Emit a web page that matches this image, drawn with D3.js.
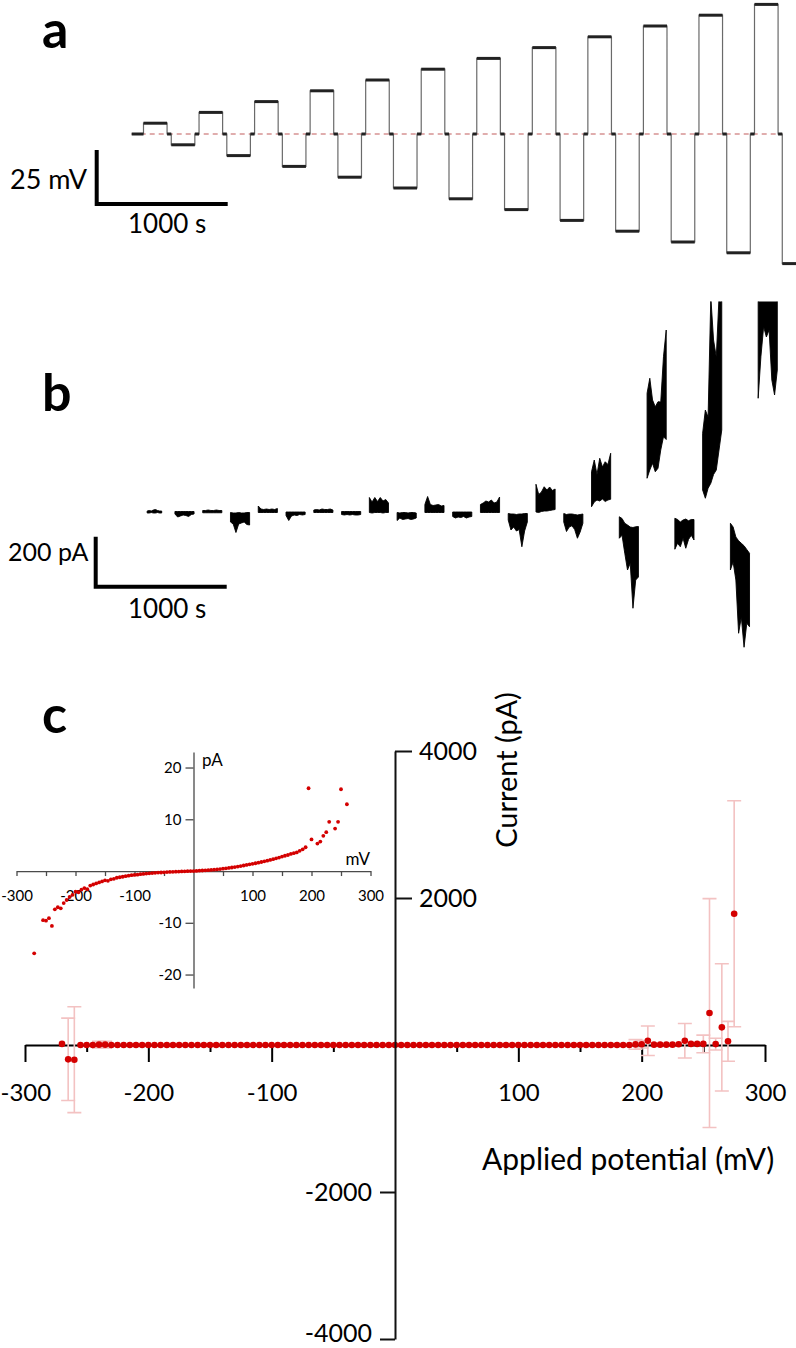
<!DOCTYPE html>
<html>
<head>
<meta charset="utf-8">
<script src="https://cdnjs.cloudflare.com/ajax/libs/d3/7.8.5/d3.min.js"></script>
<style>
  body { margin: 0; background: #fff; }
  text { font-family: Lato, 'Noto Sans', sans-serif; fill: #000; }
</style>
</head>
<body>
<div id="chart"></div>
<script>
// ---- panel a: voltage protocol ----
var stepMV = [5, -5, 10, -10, 15, -15, 20, -20, 25, -25, 30, -30,
              35, -35, 40, -40, 45, -45, 50, -50, 55, -55, 60, -60];
var pulseStart = [90, 302, 514, 726, 938, 1150, 1362, 1574, 1786, 1998, 2210, 2422,
                  2634, 2846, 3058, 3270, 3482, 3694, 3906, 4118, 4330, 4542, 4754, 4966];
var pulseDur = 180;

// ---- panel b: current recording envelopes (pA), 8 samples per pulse ----
var recStart = [118, 330, 542, 754, 966, 1178, 1390, 1602, 1814, 2026, 2238, 2450,
                2662, 2874, 3086, 3298, 3510, 3722, 3934, 4146, 4358, 4570, 4782];
var recEnd = [229, 476, 688, 900, 1112, 1324, 1536, 1748, 1960, 2172, 2384, 2596,
              2808, 3020, 3232, 3444, 3656, 3868, 4080, 4292, 4504, 4716, 4928];
var segHi = [
  [4, 6, 4, 8, 10, 6, 4, 4],
  [2, 2, 2, 2, 2, 2, 2, 2],
  [6, 6, 8, 6, 6, 8, 6, 6],
  [-2, -4, -4, -2, -4, -4, -2, -2],
  [24, 12, 10, 12, 10, 12, 10, 14],
  [0, 0, 0, 0, 0, 0, 0, 0],
  [8, 10, 8, 12, 10, 10, 12, 8],
  [2, 2, 2, 2, 2, 2, 2, 2],
  [58, 40, 58, 42, 58, 44, 50, 36],
  [-2, -4, -2, -2, -4, -2, -2, -4],
  [30, 62, 30, 26, 28, 30, 24, 26],
  [0, 0, 0, 0, 0, 0, 0, 0],
  [30, 36, 44, 40, 48, 36, 40, 60],
  [-6, -8, -8, -10, -8, -8, -6, -6],
  [111, 70, 80, 101, 88, 100, 86, 92],
  [-6, -10, -8, -8, -10, -12, -10, -8],
  [161, 208, 150, 215, 180, 201, 190, 235],
  [-19, -26, -45, -52, -60, -62, -59, -58],
  [475, 535, 448, 421, 441, 440, 621, 728],
  [-25, -30, -40, -32, -28, -35, -30, -30],
  [315, 408, 380, 860, 688, 620, 860, 860],
  [-45, -60, -100, -115, -125, -135, -150, -165],
  [860, 860, 860, 860, 860, 860, 860, 860]
];
var segLo = [
  [-4, -4, -2, -4, -4, -2, -4, -4],
  [-8, -20, -16, -12, -14, -18, -10, -8],
  [-3, -3, -3, -3, -3, -3, -3, -3],
  [-40, -48, -82, -48, -44, -40, -50, -52],
  [-2, -2, -2, -2, -2, -2, -2, -2],
  [-14, -34, -16, -12, -14, -10, -12, -10],
  [-2, -2, -2, -2, -2, -2, -2, -2],
  [-10, -12, -10, -12, -10, -12, -12, -10],
  [-2, -4, -2, -2, -2, -4, -2, -2],
  [-34, -24, -30, -28, -26, -30, -28, -24],
  [-2, -2, -2, -2, -2, -2, -2, -2],
  [-18, -24, -20, -22, -18, -24, -20, -18],
  [-2, -2, -2, -2, -2, -2, -2, -2],
  [-32, -72, -60, -76, -70, -139, -76, -40],
  [0, -2, 2, 4, 4, 6, 8, 10],
  [-40, -78, -60, -55, -70, -105, -80, -45],
  [21, 40, 48, 44, 52, 42, 48, 51],
  [-105, -93, -165, -232, -205, -385, -272, -260],
  [135, 168, 195, 161, 175, 248, 301, 290],
  [-149, -125, -139, -105, -145, -110, -93, -112],
  [88, 55, 95, 115, 150, 168, 248, 328],
  [-232, -200, -272, -485, -420, -541, -445, -459],
  [455, 621, 741, 700, 728, 528, 468, 568]
];

// ---- panel c: I-V curve (mean +/- sd, pA) ----
var ivPotential = [
  -270, -265, -260, -255, -250, -245, -240, -235, -230, -225, -220, -215, -210, -205, -200, -195,
  -190, -185, -180, -175, -170, -165, -160, -155, -150, -145, -140, -135, -130, -125, -120, -115,
  -110, -105, -100, -95, -90, -85, -80, -75, -70, -65, -60, -55, -50, -45, -40, -35,
  -30, -25, -20, -15, -10, -5, 0, 5, 10, 15, 20, 25, 30, 35, 40, 45,
  50, 55, 60, 65, 70, 75, 80, 85, 90, 95, 100, 105, 110, 115, 120, 125,
  130, 135, 140, 145, 150, 155, 160, 165, 170, 175, 180, 185, 190, 195, 200, 205,
  210, 215, 220, 225, 230, 235, 240, 245, 250, 255, 260, 265, 270, 275
];
var ivMean = [
  15, -195, -200, 0, 0, 0, 5, 5, 0, 0, 0, 0, 0, 0, 0, 0,
  0, 0, 0, 0, 0, 0, 0, 0, 0, 0, 0, 0, 0, 0, 0, 0,
  0, 0, 0, 0, 0, 0, 0, 0, 0, 0, 0, 0, 0, 0, 0, 0,
  0, 0, 0, 0, 0, 0, 0, 0, 0, 0, 0, 0, 0, 0, 0, 0,
  0, 0, 0, 0, 0, 0, 0, 0, 0, 0, 0, 0, 0, 0, 0, 0,
  0, 0, 0, 0, 0, 0, 0, 0, 0, 0, 0, 0, 0, 8, 10, 58,
  5, 5, 5, 5, 10, 58, 15, 15, 15, 435, 12, 240, 50, 1786
];
var ivSd = [
  0, 560, 720, 0, 0, 0, 45, 45, 0, 0, 0, 0, 0, 0, 0, 0,
  0, 0, 0, 0, 0, 0, 0, 0, 0, 0, 0, 0, 0, 0, 0, 0,
  0, 0, 0, 0, 0, 0, 0, 0, 0, 0, 0, 0, 0, 0, 0, 0,
  0, 0, 0, 0, 0, 0, 0, 0, 0, 0, 0, 0, 0, 0, 0, 0,
  0, 0, 0, 0, 0, 0, 0, 0, 0, 0, 0, 0, 0, 0, 0, 0,
  0, 0, 0, 0, 0, 0, 0, 0, 0, 0, 0, 0, 0, 65, 50, 200,
  0, 0, 0, 0, 0, 235, 0, 0, 120, 1557, 80, 866, 272, 1537
];

// inset: single-channel I-V (pA)
var insetMV = [
  -270, -255, -250, -245, -240, -235, -230, -225, -220, -215, -210,
  -205, -200, -195, -190, -185, -180, -175, -170, -165, -160, -155, -150, -145, -140,
  -135, -130, -125, -120, -115, -110, -105, -100, -95, -90, -85, -80, -75, -70,
  -65, -60, -55, -50, -45, -40, -35, -30, -25, -20, -15, -10, -5, 0,
  5, 10, 15, 20, 25, 30, 35, 40, 45, 50, 55, 60, 65, 70,
  75, 80, 85, 90, 95, 100, 105, 110, 115, 120, 125, 130, 135, 140,
  145, 150, 155, 160, 165, 170, 175, 180, 185, 190,
  195, 200, 210, 215, 220, 225, 230, 240, 245, 250, 260
];
var insetPA = [
  -15.9, -9.5, -9.6, -9.1, -10.6, -7.4, -7.0, -7.2, -6.2, -5.6, -5.0,
  -4.6, -4.0, -4.1, -3.6, -3.3, -3.5, -2.8, -2.6, -2.4, -2.2, -2.0, -1.8, -1.9, -1.6,
  -1.5, -1.3, -1.2, -1.1, -1.0, -0.9, -0.8, -0.75, -0.7, -0.6, -0.55, -0.5, -0.45, -0.4,
  -0.35, -0.3, -0.28, -0.25, -0.2, -0.18, -0.15, -0.12, -0.1, -0.08, -0.05, -0.03, -0.01, 0,
  0.03, 0.06, 0.1, 0.13, 0.17, 0.22, 0.27, 0.32, 0.38, 0.45, 0.52, 0.6, 0.68, 0.77,
  0.86, 0.96, 1.07, 1.18, 1.3, 1.4, 1.5, 1.62, 1.75, 1.88, 2.0, 2.15, 2.3, 2.45,
  2.6, 2.8, 2.95, 3.1, 3.3, 3.45, 3.6, 3.9, 4.2, 4.6,
  16.0, 6.1, 5.3, 5.7, 6.8, 7.5, 9.5, 8.2, 9.5, 15.8, 12.9
];

var width = 796;
var height = 1348;
var red = '#d40000';
// plain hyphen for negative numbers, as in the original figure
var plain = function (d) { return String(d); };

var svg = d3.select('#chart')
  .append('svg')
  .attr('width', width)
  .attr('height', height);

// panel letters
[['a', 48], ['b', 411], ['c', 733]].forEach(function (p) {
  svg.append('text')
    .attr('x', 42)
    .attr('y', p[1])
    .style('font-size', '52px')
    .style('font-weight', 'bold')
    .text(p[0]);
});

// ================= panel a =================
var xT = d3.scaleLinear().domain([0, 5070]).range([131.7, 795.9]);
var yA = d3.scaleLinear().domain([-60, 60]).range([263.6, 4.4]);

// dashed zero line
svg.append('line')
  .attr('x1', xT(0))
  .attr('x2', xT(pulseStart[pulseStart.length - 1]))
  .attr('y1', yA(0))
  .attr('y2', yA(0))
  .attr('stroke', '#c25c5c')
  .attr('stroke-width', 1.2)
  .attr('stroke-dasharray', '5,4');

var tracePts = [[0, 0]];
pulseStart.forEach(function (s, i) {
  tracePts.push([s, 0], [s, stepMV[i]], [s + pulseDur, stepMV[i]], [s + pulseDur, 0]);
});

var lineA = d3.line()
  .x(function (d) { return xT(d[0]); })
  .y(function (d) { return yA(d[1]); });

svg.append('path')
  .attr('d', lineA(tracePts))
  .attr('fill', 'none')
  .attr('stroke', '#6a6a6a')
  .attr('stroke-width', 1.2);

// plateaus look thicker (noise)
pulseStart.forEach(function (s, i) {
  svg.append('line')
    .attr('x1', xT(s)).attr('x2', xT(s + pulseDur))
    .attr('y1', yA(stepMV[i])).attr('y2', yA(stepMV[i]))
    .attr('stroke', '#222').attr('stroke-width', 3);
  var prevEnd = i === 0 ? 0 : pulseStart[i - 1] + pulseDur;
  svg.append('line')
    .attr('x1', xT(prevEnd)).attr('x2', xT(s))
    .attr('y1', yA(0)).attr('y2', yA(0))
    .attr('stroke', '#222').attr('stroke-width', 3);
});

// scale bars a
var barAx = 96.7, barAy = 204;
svg.append('path')
  .attr('d', 'M' + barAx + ',' + (barAy - (yA(0) - yA(25))) +
    'V' + barAy + 'H' + (barAx + xT(1000) - xT(0)))
  .attr('fill', 'none').attr('stroke', '#000').attr('stroke-width', 4);

svg.append('text').attr('x', 10).attr('y', 189).style('font-size', '27px').text('25 mV');
svg.append('text').attr('x', 128).attr('y', 233).style('font-size', '26px').text('1000 s');

// ================= panel b =================
var yB = d3.scaleLinear().domain([-800, 800]).range([712, 312]);

svg.append('clipPath').attr('id', 'clipB')
  .append('rect').attr('x', 0).attr('y', 301.5).attr('width', width).attr('height', 400);

var areaB = d3.area()
  .x(function (d) { return xT(d.t); })
  .y0(function (d) { return yB(d.lo); })
  .y1(function (d) { return yB(d.hi); });

var gB = svg.append('g').attr('clip-path', 'url(#clipB)');
segHi.forEach(function (hi, i) {
  var n = hi.length;
  var pts = hi.map(function (h, j) {
    return {
      t: recStart[i] + (recEnd[i] - recStart[i]) * j / (n - 1),
      hi: h,
      lo: segLo[i][j]
    };
  });
  gB.append('path')
    .attr('d', areaB(pts))
    .attr('fill', '#000')
    .attr('stroke', '#000')
    .attr('stroke-width', 0.9)
    .attr('stroke-linejoin', 'round');
});

// scale bars b
var barBx = 95.7, barBy = 586.7;
svg.append('path')
  .attr('d', 'M' + barBx + ',' + (barBy - (yB(0) - yB(200))) +
    'V' + barBy + 'H' + (barBx + xT(1000) - xT(0)))
  .attr('fill', 'none').attr('stroke', '#000').attr('stroke-width', 4);

svg.append('text').attr('x', 8).attr('y', 561).style('font-size', '25px').text('200 pA');
svg.append('text').attr('x', 128).attr('y', 618).style('font-size', '26px').text('1000 s');

// ================= panel c: main I-V =================
var xV = d3.scaleLinear().domain([-300, 300]).range([25, 765]);
var yI = d3.scaleLinear().domain([-4000, 4000]).range([1339, 751]);

var xAxisMajor = d3.axisBottom(xV)
  .tickValues([-300, -200, -100, 100, 200, 300])
  .tickSize(17)
  .tickSizeOuter(0)
  .tickPadding(22)
  .tickFormat(plain);
var xAxisMinor = d3.axisBottom(xV)
  .tickValues([-250, -150, -50, 50, 150, 250])
  .tickSize(7)
  .tickSizeOuter(0)
  .tickFormat('');

var gx = svg.append('g')
  .attr('transform', 'translate(0,' + yI(0) + ')')
  .call(xAxisMajor);
var gxm = svg.append('g')
  .attr('transform', 'translate(0,' + yI(0) + ')')
  .call(xAxisMinor);
gxm.select('.domain').remove();
[gx, gxm].forEach(function (g) {
  g.selectAll('path, line').attr('stroke', '#000').attr('stroke-width', 2);
});
gx.selectAll('text').style('font-size', '24px').style('font-family', 'Lato, sans-serif');
gx.selectAll('.tick').filter(function (d) { return d === -300; })
  .select('text').attr('text-anchor', 'start').attr('x', -25);

// error bars
var errG = svg.append('g').attr('stroke', '#f3c2c2').attr('stroke-width', 1.6).attr('fill', 'none');
ivPotential.forEach(function (v, i) {
  if (ivSd[i] <= 0) return;
  var x = xV(v);
  var y0 = yI(ivMean[i] + ivSd[i]);
  var y1 = yI(ivMean[i] - ivSd[i]);
  errG.append('path')
    .attr('d', 'M' + x + ',' + y0 + 'V' + y1 +
      'M' + (x - 7) + ',' + y0 + 'H' + (x + 7) +
      'M' + (x - 7) + ',' + y1 + 'H' + (x + 7));
});

// points
svg.append('g')
  .selectAll('circle')
  .data(ivPotential)
  .enter()
  .append('circle')
  .attr('cx', function (d) { return xV(d); })
  .attr('cy', function (d, i) { return yI(ivMean[i]); })
  .attr('r', 3.3)
  .attr('fill', red);

// y axis: positive ticks to the right, negative ticks to the left
var yAxisPos = d3.axisRight(yI).tickValues([2000, 4000]).tickSize(17).tickSizeOuter(0)
  .tickPadding(7).tickFormat(plain);
var yAxisNeg = d3.axisLeft(yI).tickValues([-2000, -4000]).tickSize(15).tickSizeOuter(0)
  .tickPadding(8).tickFormat(plain);
var gyp = svg.append('g').attr('transform', 'translate(' + xV(0) + ',0)').call(yAxisPos);
var gyn = svg.append('g').attr('transform', 'translate(' + xV(0) + ',0)').call(yAxisNeg);
gyn.select('.domain').remove();
[gyp, gyn].forEach(function (g) {
  g.selectAll('path, line').attr('stroke', '#111').attr('stroke-width', 2);
  g.selectAll('text').style('font-size', '25px').style('font-family', 'Lato, sans-serif');
});
gyn.selectAll('.tick').filter(function (d) { return d === -4000; })
  .select('text').attr('dy', '0.1em');

svg.append('text')
  .attr('transform', 'translate(517,770) rotate(-90)')
  .attr('text-anchor', 'middle')
  .style('font-size', '29px')
  .text('Current (pA)');

svg.append('text')
  .attr('x', 482)
  .attr('y', 1170)
  .style('font-size', '30px')
  .text('Applied potential (mV)');

// ================= panel c: inset =================
var xIn = d3.scaleLinear().domain([-300, 300]).range([16.5, 370.5]);
var yIn = d3.scaleLinear().domain([-22.6, 23]).range([988, 752]);
var axisGrey = '#4a4a4a';

var gix = svg.append('g')
  .attr('transform', 'translate(0,' + yIn(0) + ')')
  .call(d3.axisBottom(xIn)
    .tickValues([-300, -250, -200, -150, -100, -50, 50, 100, 150, 200, 250, 300])
    .tickSize(5)
    .tickSizeOuter(0)
    .tickPadding(14)
    .tickFormat(function (d) { return d % 100 === 0 ? String(d) : ''; }));
var giy = svg.append('g')
  .attr('transform', 'translate(' + xIn(0) + ',0)')
  .call(d3.axisLeft(yIn)
    .tickValues([-20, -10, 10, 20])
    .tickSize(8)
    .tickSizeOuter(0)
    .tickPadding(4)
    .tickFormat(plain));
[gix, giy].forEach(function (g) {
  g.selectAll('path, line').attr('stroke', axisGrey).attr('stroke-width', 1.3);
  g.selectAll('text').style('font-size', '15px').style('font-family', 'Lato, sans-serif');
});

svg.append('g')
  .selectAll('circle')
  .data(insetMV)
  .enter()
  .append('circle')
  .attr('cx', function (d) { return xIn(d); })
  .attr('cy', function (d, i) { return yIn(insetPA[i]); })
  .attr('r', 1.9)
  .attr('fill', red);

svg.append('text').attr('x', 202).attr('y', 766).style('font-size', '17px').text('pA');
svg.append('text').attr('x', 370).attr('y', 865).attr('text-anchor', 'end').style('font-size', '17px').text('mV');
</script>
</body>
</html>
